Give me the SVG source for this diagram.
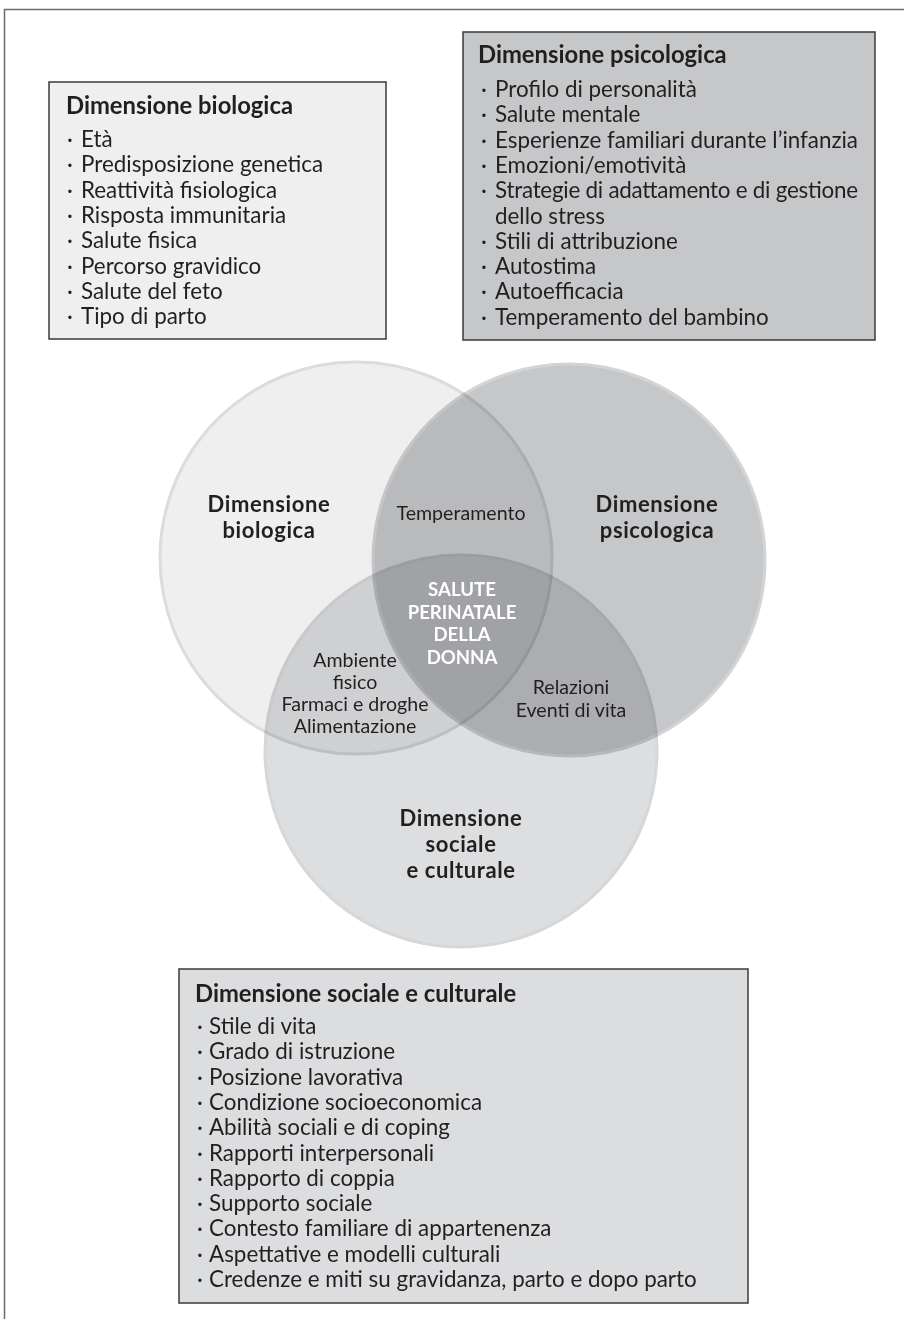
<svg xmlns="http://www.w3.org/2000/svg" width="904" height="1319" viewBox="0 0 904 1319">
  <style>
    .t{font-family:Lato,"Liberation Sans",sans-serif;fill:#231f20}
    .h{font-size:23.8px;font-weight:bold}
    .i{font-size:22.4px}
    .c{font-size:19.6px;text-anchor:middle}
    .cb{font-size:22px;font-weight:bold;letter-spacing:0.6px;text-anchor:middle}
    .w{font-size:18.6px;font-weight:bold;text-anchor:middle;fill:#ffffff}
    .box{stroke:#3a3a3a;stroke-width:1.5}
    .ring{mix-blend-mode:multiply;stroke-width:3}
  </style>

  <!-- page frame (top and left rules) -->
  <path d="M4.5,1319 V9.5 H904" fill="none" stroke="#6b6b6b" stroke-width="1.5"/>

  <!-- biological dimension list -->
  <g id="box-biologica">
    <rect class="box" x="49" y="82" width="337" height="257" fill="#efefef"/>
    <text class="t h" x="66" y="114">Dimensione biologica</text>
    <g class="t i">
      <text y="147"><tspan x="67">·</tspan><tspan x="81">Età</tspan></text>
      <text y="172.3"><tspan x="67">·</tspan><tspan x="81">Predisposizione genetica</tspan></text>
      <text y="197.6"><tspan x="67">·</tspan><tspan x="81">Reattività fisiologica</tspan></text>
      <text y="222.9"><tspan x="67">·</tspan><tspan x="81">Risposta immunitaria</tspan></text>
      <text y="248.2"><tspan x="67">·</tspan><tspan x="81">Salute fisica</tspan></text>
      <text y="273.5"><tspan x="67">·</tspan><tspan x="81">Percorso gravidico</tspan></text>
      <text y="298.8"><tspan x="67">·</tspan><tspan x="81">Salute del feto</tspan></text>
      <text y="324.1"><tspan x="67">·</tspan><tspan x="81">Tipo di parto</tspan></text>
    </g>
  </g>

  <!-- psychological dimension list -->
  <g id="box-psicologica">
    <rect class="box" x="463" y="32" width="412" height="308" fill="#c6c7c9"/>
    <text class="t h" x="478" y="63">Dimensione psicologica</text>
    <g class="t i">
      <text y="97"><tspan x="481">·</tspan><tspan x="495">Profilo di personalità</tspan></text>
      <text y="122.3"><tspan x="481">·</tspan><tspan x="495">Salute mentale</tspan></text>
      <text y="147.6"><tspan x="481">·</tspan><tspan x="495" textLength="363" lengthAdjust="spacing">Esperienze familiari durante l’infanzia</tspan></text>
      <text y="172.9"><tspan x="481">·</tspan><tspan x="495">Emozioni/emotività</tspan></text>
      <text y="198.2"><tspan x="481">·</tspan><tspan x="495" textLength="363" lengthAdjust="spacing">Strategie di adattamento e di gestione</tspan></text>
      <text y="223.5"><tspan x="495">dello stress</tspan></text>
      <text y="248.8"><tspan x="481">·</tspan><tspan x="495">Stili di attribuzione</tspan></text>
      <text y="274.1"><tspan x="481">·</tspan><tspan x="495">Autostima</tspan></text>
      <text y="299.4"><tspan x="481">·</tspan><tspan x="495">Autoefficacia</tspan></text>
      <text y="324.7"><tspan x="481">·</tspan><tspan x="495">Temperamento del bambino</tspan></text>
    </g>
  </g>

  <!-- three overlapping dimensions -->
  <g id="venn">
    <circle id="circle-biologica" class="ring" cx="356" cy="558" r="196" fill="#efefef" stroke="#dcdcdc"/>
    <circle id="circle-psicologica" class="ring" cx="569" cy="560" r="196" fill="#c6c7c9" stroke="#d3d4d6"/>
    <circle id="circle-sociale" class="ring" cx="461" cy="751" r="196" fill="#dddee0" stroke="#d6d7d9"/>
  </g>

  <g id="label-biologica" class="t cb">
    <text x="269" y="511.5">Dimensione</text>
    <text x="269" y="537.5">biologica</text>
  </g>
  <g id="label-psicologica" class="t cb">
    <text x="657" y="511.5">Dimensione</text>
    <text x="657" y="537.5">psicologica</text>
  </g>
  <g id="label-sociale" class="t cb">
    <text x="461" y="826">Dimensione</text>
    <text x="461" y="852">sociale</text>
    <text x="461" y="878">e culturale</text>
  </g>
  <g id="label-temperamento" class="t c">
    <text x="461" y="520">Temperamento</text>
  </g>
  <g id="label-ambiente" class="t c">
    <text x="355" y="667">Ambiente</text>
    <text x="355" y="689">fisico</text>
    <text x="355" y="711">Farmaci e droghe</text>
    <text x="355" y="733">Alimentazione</text>
  </g>
  <g id="label-relazioni" class="t c">
    <text x="571" y="694">Relazioni</text>
    <text x="571" y="717">Eventi di vita</text>
  </g>
  <g id="label-centro" class="t w">
    <text x="462" y="596">SALUTE</text>
    <text x="462" y="618.5">PERINATALE</text>
    <text x="462" y="641">DELLA</text>
    <text x="462" y="663.5">DONNA</text>
  </g>

  <!-- social and cultural dimension list -->
  <g id="box-sociale">
    <rect class="box" x="179" y="969" width="569" height="334" fill="#dcdddf"/>
    <text class="t h" x="195" y="1002">Dimensione sociale e culturale</text>
    <g class="t i">
      <text y="1034"><tspan x="197">·</tspan><tspan x="209">Stile di vita</tspan></text>
      <text y="1059.3"><tspan x="197">·</tspan><tspan x="209">Grado di istruzione</tspan></text>
      <text y="1084.6"><tspan x="197">·</tspan><tspan x="209">Posizione lavorativa</tspan></text>
      <text y="1109.9"><tspan x="197">·</tspan><tspan x="209">Condizione socioeconomica</tspan></text>
      <text y="1135.2"><tspan x="197">·</tspan><tspan x="209">Abilità sociali e di coping</tspan></text>
      <text y="1160.5"><tspan x="197">·</tspan><tspan x="209">Rapporti interpersonali</tspan></text>
      <text y="1185.8"><tspan x="197">·</tspan><tspan x="209">Rapporto di coppia</tspan></text>
      <text y="1211.1"><tspan x="197">·</tspan><tspan x="209">Supporto sociale</tspan></text>
      <text y="1236.4"><tspan x="197">·</tspan><tspan x="209">Contesto familiare di appartenenza</tspan></text>
      <text y="1261.7"><tspan x="197">·</tspan><tspan x="209">Aspettative e modelli culturali</tspan></text>
      <text y="1287"><tspan x="197">·</tspan><tspan x="209">Credenze e miti su gravidanza, parto e dopo parto</tspan></text>
    </g>
  </g>
</svg>
